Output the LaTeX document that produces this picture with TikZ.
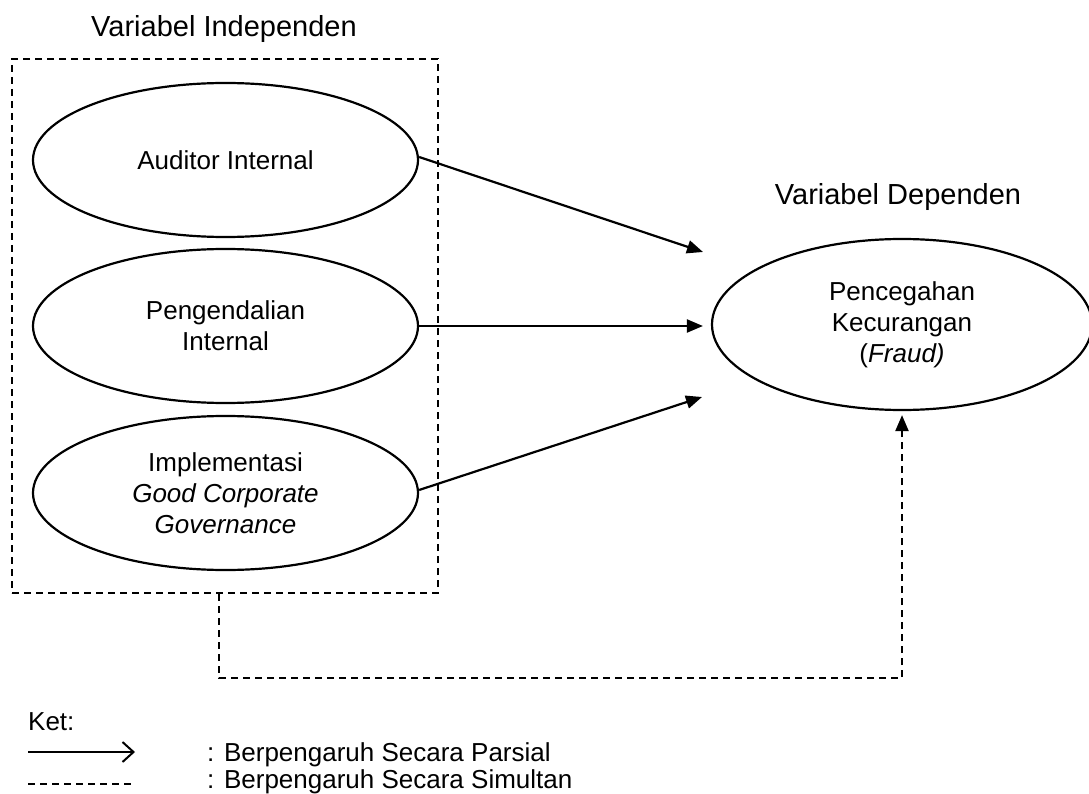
\documentclass[tikz,border=0pt]{standalone}
\usepackage{fontspec}
\setmainfont{Liberation Sans}
\usetikzlibrary{shapes.geometric,arrows.meta}
\begin{document}
\begin{tikzpicture}[x=1pt,y=-1pt,
  varell/.style={draw,ellipse,line width=2.2pt,inner sep=0pt,align=center,
    font=\fontsize{26}{31}\selectfont},
  header/.style={anchor=base,inner sep=0pt,font=\fontsize{29}{34}\selectfont},
  legtext/.style={anchor=base west,inner sep=0pt,font=\fontsize{26}{30}\selectfont},
  partial/.style={line width=2.2pt,-{Triangle[length=16pt,width=13pt]}},
  simul/.style={line width=2.2pt,dash pattern=on 7pt off 5pt,-{Triangle[length=16pt,width=13pt]}},
  groupbox/.style={draw,line width=2pt,dash pattern=on 7pt off 5pt,inner sep=0pt}
]
\useasboundingbox (0,0) rectangle (1089,794);

% headers
\node[header] (hind) at (224,37) {Variabel Independen};
\node[header] (hdep) at (898,205) {Variabel Dependen};

% group box
\node[groupbox,minimum width=426pt,minimum height=534pt] (box) at (225,326) {};

% independent variables
\node[varell,minimum width=385pt,minimum height=154pt] (e1) at (225.5,160) {Auditor Internal};
\node[varell,minimum width=385pt,minimum height=154pt] (e2) at (225.5,326) {Pengendalian\\Internal};
\node[varell,minimum width=385pt,minimum height=154pt] (e3) at (225.5,493) {Implementasi\\\textit{Good Corporate}\\\textit{Governance}};

% dependent variable
\node[varell,minimum width=380pt,minimum height=171pt] (dep) at (902,324.5) {Pencegahan\\Kecurangan\\(\textit{Fraud)}};

% partial arrows
\coordinate (t1) at (703,252);
\coordinate (t3) at (702,397);
\draw[partial] (e1.east) ++(0,-3) -- (t1);
\draw[partial,shorten >=8pt] (e2.east) -- (e2.east -| dep.west);
\draw[partial] (e3.east) ++(0,-3) -- (t3);

% simultaneous path
\coordinate (c1) at (219,678);
\coordinate (c2) at (902,678);
\draw[simul,shorten >=4pt] (box.south -| c1) -- (c1) -- (c2) -- (dep.south);

% legend
\node[legtext] (ket) at (28,730) {Ket:};
\coordinate (la1) at (28,752);
\coordinate (la2) at (135,752);
\coordinate (ld1) at (28,784);
\coordinate (ld2) at (135,784);
\draw[line width=2pt,-{Straight Barb[length=11pt,width=20pt]}] (la1) -- (la2);
\draw[line width=1.3pt,dash pattern=on 7pt off 5pt] (ld1) -- (ld2);
\node[legtext] (lp) at (207,761) {: Berpengaruh Secara Parsial};
\node[legtext] (ls) at (207,788) {: Berpengaruh Secara Simultan};
\end{tikzpicture}
\end{document}
